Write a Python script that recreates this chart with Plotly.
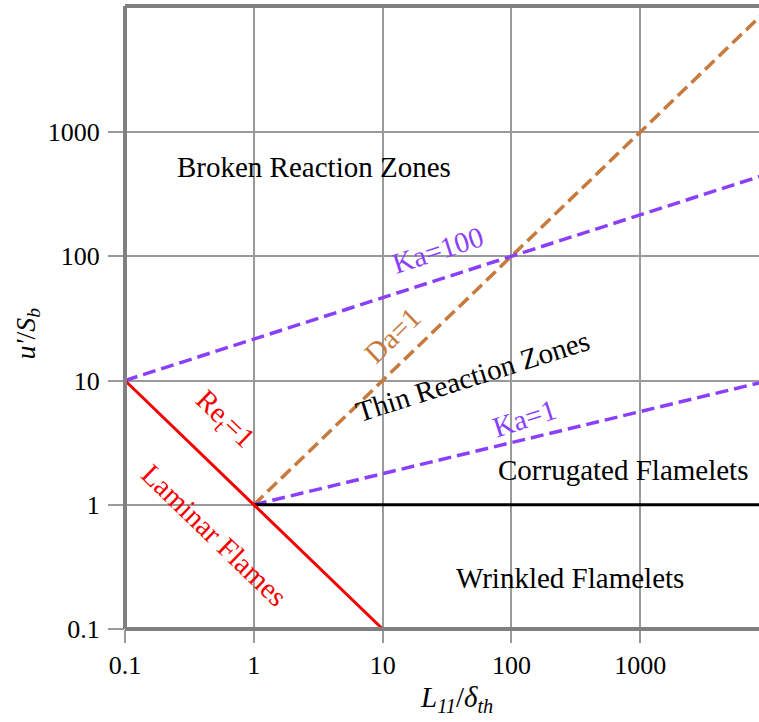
import numpy as np
import plotly.graph_objects as go

# ---- data ----
x_max = 8350.0
y_max = 10 ** 4.014
x_tick_vals = [0.1, 1, 10, 100, 1000]
x_tick_text = ["0.1", "1", "10", "100", "1000"]
y_tick_vals = [0.1, 1, 10, 100, 1000]
y_tick_text = ["0.1", "1", "10", "100", "1000"]

re1_x = [0.1, 10]
re1_y = [10, 0.1]
flamelet_x = [1, 10000]
flamelet_y = [1, 1]
da1_x = [1, 10000]
da1_y = [1, 10000]
ka1_x = [1, 10000]
ka1_y = [1, 10]
ka100_x = [0.1, 100, 10000]
ka100_y = [10, 100, 464]

labels = ["Broken Reaction Zones", "Thin Reaction Zones", "Corrugated Flamelets", "Wrinkled Flamelets",
          "Ka=100", "Ka=1", "Da=1", "Re<sub>t</sub>=1", "Laminar Flames"]
label_lx = [0.465, 1.700, 2.866, 2.454, 1.428, 2.104, 1.078, -0.227, -0.305]
label_ly = [2.718, 1.036, 0.280, -0.590, 2.050, 0.698, 1.366, 0.682, -0.243]
label_angle = [0, -17.5, 0, 0, -18, -18, -44, 44, 44]

PURPLE = "#8a3ffc"
BROWN = "#c77a3e"
RED = "#f50000"
label_color = ["black", "black", "black", "black", PURPLE, PURPLE, BROWN, RED, RED]

FONT = "Liberation Serif"
DASH = "13px,6px"

fig = go.Figure()
fig.add_trace(go.Scatter(x=da1_x, y=da1_y, mode="lines",
                         line=dict(color=BROWN, width=3.5, dash=DASH)))
fig.add_trace(go.Scatter(x=ka100_x, y=ka100_y, mode="lines",
                         line=dict(color=PURPLE, width=3.5, dash=DASH)))
fig.add_trace(go.Scatter(x=ka1_x, y=ka1_y, mode="lines",
                         line=dict(color=PURPLE, width=3.5, dash=DASH)))
fig.add_trace(go.Scatter(x=flamelet_x, y=flamelet_y, mode="lines",
                         line=dict(color="black", width=3)))
fig.add_trace(go.Scatter(x=re1_x, y=re1_y, mode="lines",
                         line=dict(color=RED, width=3)))

for t, lx, ly, a, c in zip(labels, label_lx, label_ly, label_angle, label_color):
    fig.add_annotation(x=lx, y=ly, xref="x", yref="y", text=t, showarrow=False,
                       textangle=a, font=dict(family=FONT, size=29, color=c))

# axis titles
fig.add_annotation(x=(456 - 125) / (759 - 125), y=(629 - 700) / (629 - 6), yshift=-19,
                   xref="paper", yref="paper",
                   text="<i>L</i><sub><i>11</i></sub>/<i>δ</i><sub><i>th</i></sub>",
                   showarrow=False, font=dict(family=FONT, size=29, color="black"))
fig.add_annotation(x=(30 - 125) / (759 - 125), y=(629 - 333) / (629 - 6), xshift=-23,
                   xref="paper", yref="paper",
                   text="<i>u'</i>/<i>S</i><sub><i>b</i></sub>", textangle=-90,
                   showarrow=False, font=dict(family=FONT, size=28, color="black"))

# frame (left, top, bottom)
frame = dict(color="#808080", width=4)
fig.add_shape(type="line", xref="paper", yref="paper", x0=0, x1=0, y0=0, y1=1, line=frame)
fig.add_shape(type="line", xref="paper", yref="paper", x0=0, x1=1, y0=1, y1=1, line=frame)
fig.add_shape(type="line", xref="paper", yref="paper", x0=0, x1=1, y0=0, y1=0, line=frame)

axis_common = dict(type="log", showgrid=True, gridcolor="#9a9a9a", gridwidth=1.5,
                   ticks="outside", tickcolor="#9a9a9a", tickwidth=1.5,
                   showline=False, zeroline=False,
                   tickfont=dict(family=FONT, size=26, color="black"))
fig.update_xaxes(range=[-1, np.log10(x_max)], tickvals=x_tick_vals, ticktext=x_tick_text,
                 ticklen=13, ticklabelstandoff=0, **axis_common)
fig.update_yaxes(range=[-1, np.log10(y_max)], tickvals=y_tick_vals, ticktext=y_tick_text,
                 ticklen=16, ticklabelstandoff=3, **axis_common)

fig.update_layout(width=759, height=722, margin=dict(l=125, r=0, t=6, b=93),
                  plot_bgcolor="white", paper_bgcolor="white", showlegend=False)

fig.write_html("out.html", config={"displayModeBar": False},
               post_script="document.body.style.margin='0';document.body.style.overflow='hidden';")
